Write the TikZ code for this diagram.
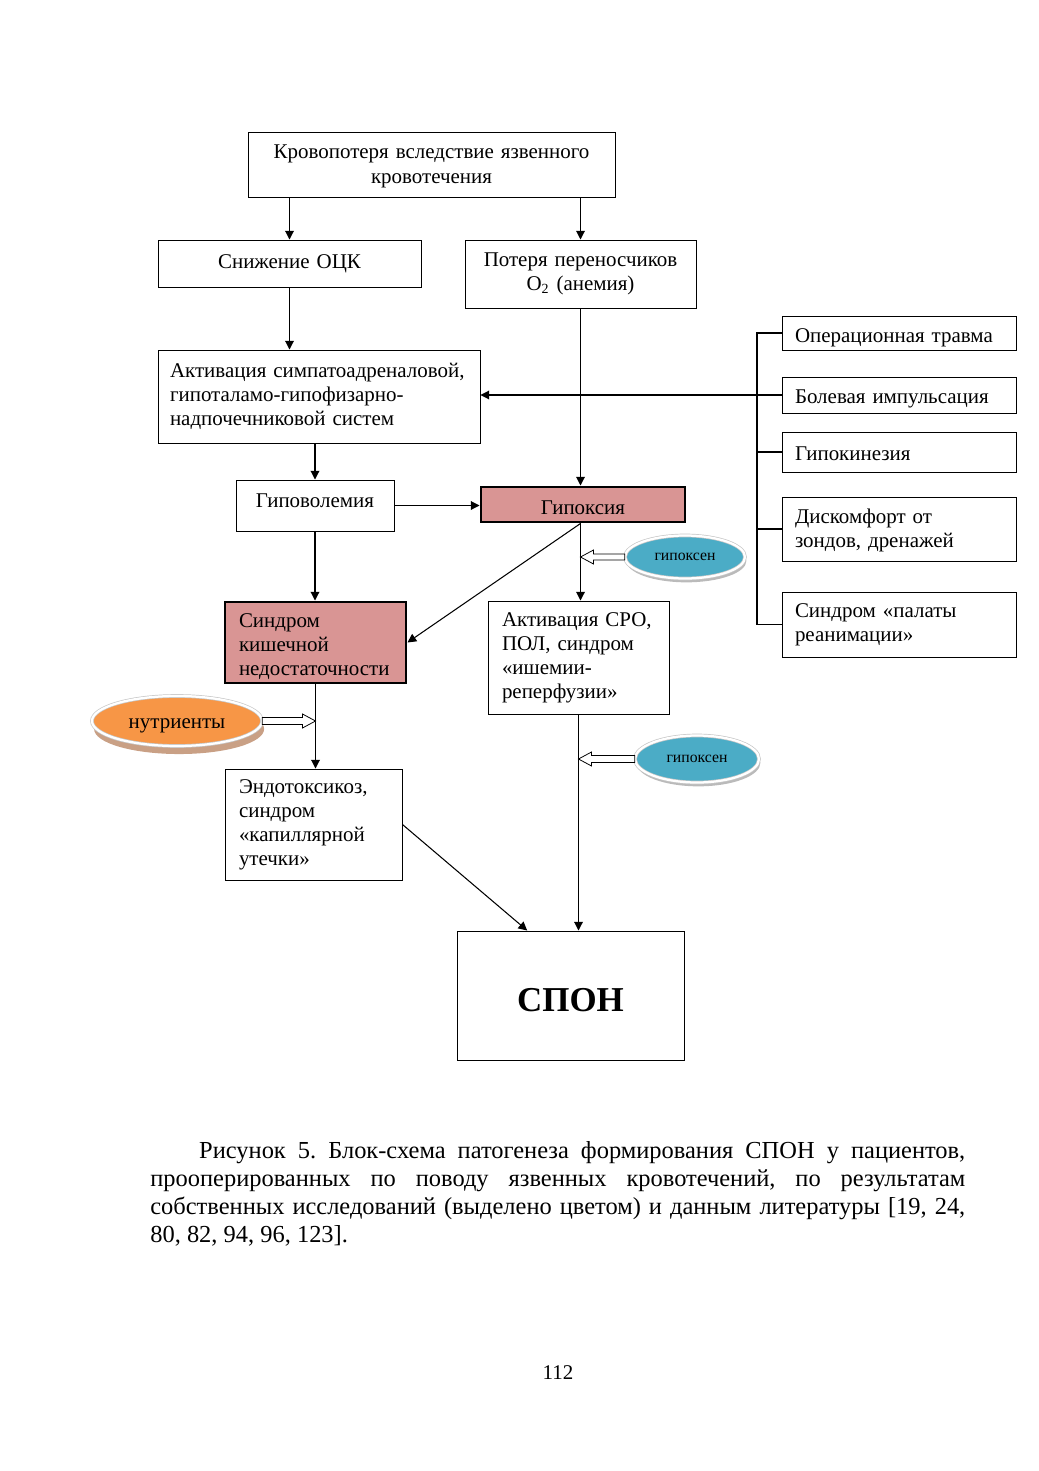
\documentclass[tikz,border=0pt]{standalone}
\usepackage{fontspec}
\setmainfont{Liberation Serif}
\usetikzlibrary{arrows.meta,calc,shapes.geometric,shadows}
\newcommand\pxu{0.5727pt}
\newcommand\bx[7][]{\node[box,text width={(#5-#3-28)*\pxu},minimum height={(#6-#4)*\pxu},#1] (#2) at ({(#3+#5)/2},{(#4+#6)/2}) {#7};}
\newcommand\lowr[2]{\raisebox{#1}[\height][\depth]{#2}}
\definecolor{pinkc}{HTML}{D99594}
\definecolor{bluec}{HTML}{4BACC6}
\definecolor{orangec}{HTML}{F79646}
\definecolor{tanc}{HTML}{C9A085}
\begin{document}
\begin{tikzpicture}[x=\pxu,y=-\pxu,
  box/.style={draw,line width=0.55pt,inner xsep={14*\pxu},inner ysep=0pt,align=left,font=\fontsize{12}{13.8}\selectfont},
  boxc/.style={align=center},
  hot/.style={fill=pinkc,line width=1.7pt},
  arr/.style={-{Triangle[length=5pt,width=5pt]},line width=0.6pt},
  ln/.style={line width=0.6pt},
  hollow/.style={draw,fill=white,line width=0.45pt,line join=miter},
  ell/.style={ellipse,inner sep=0pt,draw=black!22,double=white,double distance=1.3pt,line width=0.4pt}]
\useasboundingbox (0,0) rectangle (1039,1471);

% boxes
\bx[boxc]{top}{248}{132}{615}{197}{\rule{0pt}{10pt}Кровопотеря вследствие язвенного\\кровотечения}
\bx[boxc]{sn}{158}{240}{421}{287}{Снижение ОЦК}
\bx[boxc]{pot}{465}{240}{696}{308}{Потеря переносчиков\\O\textsubscript{2} (анемия)}
\bx[text width={(322-24)*\pxu},inner xsep={12*\pxu}]{akt}{158}{350}{480}{443}{Активация симпатоадреналовой,\\гипоталамо-гипофизарно-\\надпочечниковой систем}
\bx[boxc]{gpv}{236}{480}{394}{531}{\lowr{2.8pt}{Гиповолемия}}
\bx[boxc,hot]{hyp}{481}{487}{685}{522}{\lowr{-1.7pt}{Гипоксия}}
\bx[hot]{sk}{225}{602}{406}{683}{\rule{0pt}{12.5pt}Синдром\\кишечной\\недостаточности}
\bx{sro}{488}{601}{669}{714}{Активация СРО,\\ПОЛ, синдром\\«ишемии-\\реперфузии»}
\bx{endo}{225}{769}{402}{880}{Эндотоксикоз,\\синдром\\«капиллярной\\утечки»}
\node[box,minimum width={227*\pxu},minimum height={129*\pxu},font=\fontsize{20}{24}\selectfont\bfseries,align=center] (spon) at (570.5,995.5) {\lowr{-2.5pt}{СПОН}};

\bx[inner xsep={13*\pxu},text width={(234-26)*\pxu}]{op}{782}{316}{1016}{350}{\lowr{-3pt}{Операционная травма}}
\bx[inner xsep={13*\pxu},text width={(234-26)*\pxu}]{bol}{782}{377}{1016}{413}{\lowr{-2.5pt}{Болевая импульсация}}
\bx[inner xsep={13*\pxu},text width={(234-26)*\pxu}]{gk}{782}{432}{1016}{472}{\lowr{-1pt}{Гипокинезия}}
\bx[inner xsep={13*\pxu},text width={(234-26)*\pxu}]{dis}{782}{497}{1016}{561}{\rule{0pt}{10.5pt}Дискомфорт от\\зондов, дренажей}
\bx[inner xsep={13*\pxu},text width={(234-26)*\pxu}]{sp}{782}{592}{1016}{657}{Синдром «палаты\\реанимации»}

% ellipses
\node[ell,fill=bluec,minimum width={120*\pxu},minimum height={43*\pxu},font=\fontsize{9}{10}\selectfont,
  drop shadow={shadow xshift=0.8pt,shadow yshift=-2.2pt,fill=black!45,opacity=0.6}] (g1) at (685,557) {гипоксен};
\node[ell,fill=bluec,minimum width={124*\pxu},minimum height={47*\pxu},font=\fontsize{9}{10}\selectfont,
  drop shadow={shadow xshift=0.8pt,shadow yshift=-2.2pt,fill=black!45,opacity=0.6}] (g2) at (697,759) {гипоксен};
\node[ell,fill=orangec,minimum width={170*\pxu},minimum height={50*\pxu},font=\fontsize{12}{13.8}\selectfont,
  drop shadow={shadow xshift=1.2pt,shadow yshift=-4.6pt,fill=tanc,opacity=1}] (nut) at (177,721) {\lowr{-3pt}{нутриенты}};

% bracket and connectors
\coordinate (br) at (757,0);
\coordinate (hb) at (hyp.south -| pot.south);
\draw[arr] (top.south -| sn.north) -- (sn.north);
\draw[arr] (top.south -| pot.north) -- (pot.north);
\draw[arr] (sn.south) -- (sn.south |- akt.north);
\draw[arr] (pot.south) -- (pot.south |- hyp.north);
\draw[arr] (bol.west) -- (bol.west -| akt.east);
\draw[ln] (op.west) -- (op.west -| br) -- (sp.west -| br) -- (sp.west);
\draw[ln] (gk.west) -- (gk.west -| br);
\draw[ln] (dis.west) -- (dis.west -| br);
\draw[arr] (gpv.north |- akt.south) -- (gpv.north);
\draw[arr] (gpv.east) -- (gpv.east -| hyp.west);
\draw[arr] (gpv.south) -- (gpv.south |- sk.north);
\draw[arr] (hb) -- (sk.east);
\draw[arr] (hb) -- (hb |- sro.north);
\draw[arr] (sk.south) -- (sk.south |- endo.north);
\draw[arr] (endo.east) -- ($(spon.north west)!0.31!(spon.north east)$);
\draw[arr] (sro.south) -- (sro.south |- spon.north);

% hollow arrows
\coordinate (t1) at (hb |- g1.west);
\coordinate (t2) at (sro.south |- g2.west);
\coordinate (t3) at (sk.south |- nut.east);
\draw[hollow] ($(g1.west)+(0,-3)$) -- ($(t1)+(13,-3)$) -- ($(t1)+(13,-7)$) -- (t1) -- ($(t1)+(13,7)$) -- ($(t1)+(13,3)$) -- ($(g1.west)+(0,3)$) -- cycle;
\draw[hollow] ($(g2.west)+(0,-3.5)$) -- ($(t2)+(13,-3.5)$) -- ($(t2)+(13,-7)$) -- (t2) -- ($(t2)+(13,7)$) -- ($(t2)+(13,3.5)$) -- ($(g2.west)+(0,3.5)$) -- cycle;
\draw[hollow] ($(nut.east)+(0,-3.5)$) -- ($(t3)+(-13,-3.5)$) -- ($(t3)+(-13,-7)$) -- (t3) -- ($(t3)+(-13,7)$) -- ($(t3)+(-13,3.5)$) -- ($(nut.east)+(0,3.5)$) -- cycle;

% caption
\node[anchor=north west,text width={815*\pxu},align=justify,inner sep=0pt,font=\fontsize{14}{16.1}\selectfont\frenchspacing] (cap) at (150,1141)
{\hspace*{28pt}Рисунок 5. Блок-схема патогенеза формирования СПОН у пациентов,\linebreak прооперированных по поводу язвенных кровотечений, по результатам\linebreak собственных исследований (выделено цветом) и данным литературы [19, 24,\linebreak 80, 82, 94, 96, 123].};
\node[font=\fontsize{12}{13.8}\selectfont] (pg) at (558,1373) {112};
\end{tikzpicture}
\end{document}
